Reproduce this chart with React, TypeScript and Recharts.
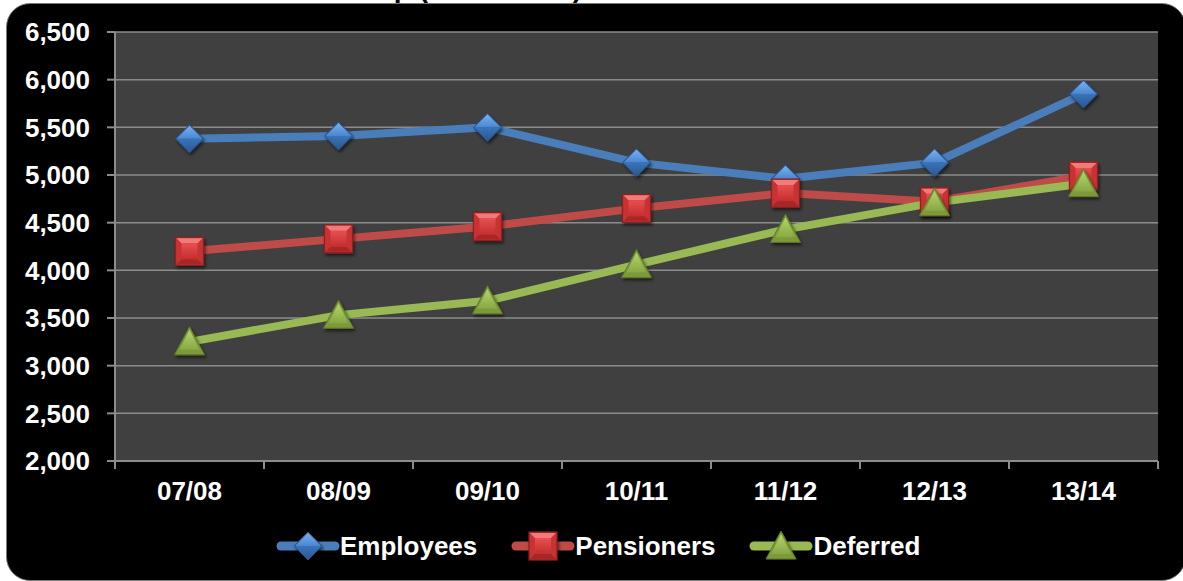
import React from 'react';
import { LineChart, Line, XAxis, YAxis, CartesianGrid } from 'recharts';

const years = ['07/08', '08/09', '09/10', '10/11', '11/12', '12/13', '13/14'];
const employees = [5380, 5410, 5500, 5130, 4960, 5130, 5850];
const pensioners = [4200, 4330, 4460, 4650, 4810, 4720, 4990];
const deferred = [3250, 3530, 3680, 4060, 4430, 4710, 4910];
const yTicks = [2000, 2500, 3000, 3500, 4000, 4500, 5000, 5500, 6000, 6500];

const data = years.map((year, i) => ({
  year,
  employees: employees[i],
  pensioners: pensioners[i],
  deferred: deferred[i],
}));

const W = 1183;
const H = 581;
const MARGIN = { top: 32, right: 25, bottom: 80, left: 0 };
const Y_AXIS_W = 115;
const PLOT_W = W - MARGIN.right - MARGIN.left - Y_AXIS_W;
const BAND = PLOT_W / years.length;
const FONT = '"Liberation Sans", Arial, sans-serif';
const GRID = '#8c8c8c';
const FS = 26;

const Diamond = ({ cx, cy }: { cx: number; cy: number }) => (
  <g filter="url(#mkShadow)">
    <polygon points={`${cx},${cy - 14} ${cx + 14},${cy} ${cx},${cy + 14} ${cx - 14},${cy}`} fill="#2f5f9c" stroke="#2a5288" strokeWidth={1} />
    <polygon points={`${cx},${cy - 13} ${cx + 13},${cy} ${cx - 13},${cy}`} fill="url(#gBlueTop)" />
    <polygon points={`${cx - 13},${cy} ${cx + 13},${cy} ${cx},${cy + 13}`} fill="url(#gBlueBot)" />
  </g>
);

const Square = ({ cx, cy }: { cx: number; cy: number }) => (
  <g filter="url(#mkShadow)">
    <rect x={cx - 14} y={cy - 14} width={28} height={28} fill="#c93030" stroke="#8a2222" strokeWidth={1.2} />
    <polygon points={`${cx - 13},${cy - 13} ${cx + 13},${cy - 13} ${cx + 8},${cy - 8} ${cx - 8},${cy - 8}`} fill="#f27a7a" />
    <polygon points={`${cx - 13},${cy + 13} ${cx + 13},${cy + 13} ${cx + 8},${cy + 8} ${cx - 8},${cy + 8}`} fill="#a72828" />
    <rect x={cx - 8} y={cy - 8} width={16} height={16} fill="url(#gRed)" />
  </g>
);

const Triangle = ({ cx, cy }: { cx: number; cy: number }) => (
  <g filter="url(#mkShadow)">
    <polygon points={`${cx},${cy - 15} ${cx + 15},${cy + 13} ${cx - 15},${cy + 13}`} fill="#7d9a3a" stroke="#5f7a28" strokeWidth={1} />
    <polygon points={`${cx},${cy - 12} ${cx + 10},${cy + 8} ${cx - 10},${cy + 8}`} fill="url(#gGreen)" />
  </g>
);

const series = [
  { key: 'employees', name: 'Employees', color: '#4a7ebb', Marker: Diamond },
  { key: 'pensioners', name: 'Pensioners', color: '#be4b48', Marker: Square },
  { key: 'deferred', name: 'Deferred', color: '#98b954', Marker: Triangle },
];

const XTick = (props: any) => {
  const { x, y, payload, index } = props;
  const left = x - BAND / 2;
  return (
    <g>
      <line x1={left} y1={y} x2={left} y2={y + 8} stroke={GRID} strokeWidth={2} />
      {index === years.length - 1 && (
        <line x1={left + BAND} y1={y} x2={left + BAND} y2={y + 8} stroke={GRID} strokeWidth={2} />
      )}
      <text x={x} y={y + 39} textAnchor="middle" fill="#fff" fontSize={FS} fontWeight="bold" fontFamily={FONT}>
        {payload.value}
      </text>
    </g>
  );
};

const fmt = (v: number) => v.toLocaleString('en-US');

export default function App() {
  return (
    <div style={{ position: 'absolute', left: 0, top: 0, width: W, height: H, overflow: 'hidden', background: '#fff', fontFamily: FONT }}>
      <svg width={0} height={0} style={{ position: 'absolute' }}>
        <defs>
          <linearGradient id="gBlueTop" x1="0" y1="0" x2="0" y2="1">
            <stop offset="0%" stopColor="#7ab0ee" />
            <stop offset="100%" stopColor="#4a86d0" />
          </linearGradient>
          <linearGradient id="gBlueBot" x1="0" y1="0" x2="0" y2="1">
            <stop offset="0%" stopColor="#3a74ba" />
            <stop offset="100%" stopColor="#2b5890" />
          </linearGradient>
          <linearGradient id="gRed" x1="0" y1="0" x2="0" y2="1">
            <stop offset="0%" stopColor="#e85050" />
            <stop offset="100%" stopColor="#c42e2e" />
          </linearGradient>
          <linearGradient id="gGreen" x1="0" y1="0" x2="0" y2="1">
            <stop offset="0%" stopColor="#b4d46a" />
            <stop offset="100%" stopColor="#88a844" />
          </linearGradient>
          <filter id="mkShadow" x="-50%" y="-50%" width="200%" height="200%">
            <feDropShadow dx="1.5" dy="2.5" stdDeviation="1.5" floodColor="#000" floodOpacity="0.55" />
          </filter>
        </defs>
      </svg>

      <svg width={W} height={20} style={{ position: 'absolute', left: 0, top: 0 }}>
        <text x={582} y={-3} textAnchor="end" fontSize={28} fontWeight="bold" fontFamily={FONT} fill="#000">
          Membership (Headcount)
        </text>
      </svg>

      <div style={{ position: 'absolute', left: 6, top: 3, width: 1178, height: 576, borderRadius: 24, background: '#000', border: '1px solid #7a7a7a' }} />

      <LineChart width={W} height={H} data={data} margin={MARGIN} style={{ position: 'absolute', left: 0, top: 0 }}>
        <CartesianGrid vertical={false} fill="#404040" stroke={GRID} strokeWidth={1.5} />
        <XAxis
          dataKey="year"
          height={40}
          padding={{ left: BAND / 2, right: BAND / 2 }}
          tickLine={false}
          tickSize={0}
          tickMargin={0}
          axisLine={{ stroke: GRID, strokeWidth: 2 }}
          tick={<XTick />}
          interval={0}
        />
        <YAxis
          width={Y_AXIS_W}
          domain={[2000, 6500]}
          ticks={yTicks}
          tickFormatter={fmt}
          tickSize={8}
          tickMargin={17}
          tickLine={{ stroke: GRID, strokeWidth: 2 }}
          axisLine={{ stroke: GRID, strokeWidth: 2 }}
          tick={{ fill: '#fff', fontSize: FS, fontWeight: 'bold', fontFamily: FONT }}
        />
        {series.map(({ key, color, Marker }) => (
          <Line
            key={key}
            dataKey={key}
            stroke={color}
            strokeWidth={8}
            isAnimationActive={false}
            dot={(p: any) => <Marker key={`${key}-${p.index}`} cx={p.cx} cy={p.cy} />}
          />
        ))}
      </LineChart>

      <div style={{ position: 'absolute', left: 276, top: 531, height: 30, display: 'flex', alignItems: 'center', gap: 34 }}>
        {series.map(({ key, name, color, Marker }) => (
          <div key={key} style={{ display: 'flex', alignItems: 'center' }}>
            <svg width={64} height={32} style={{ overflow: 'visible' }}>
              <line x1={5} y1={16} x2={59} y2={16} stroke={color} strokeWidth={9} strokeLinecap="round" />
              <Marker cx={32} cy={16} />
            </svg>
            <span style={{ color: '#fff', fontSize: FS, fontWeight: 'bold', lineHeight: '30px' }}>{name}</span>
          </div>
        ))}
      </div>
    </div>
  );
}
